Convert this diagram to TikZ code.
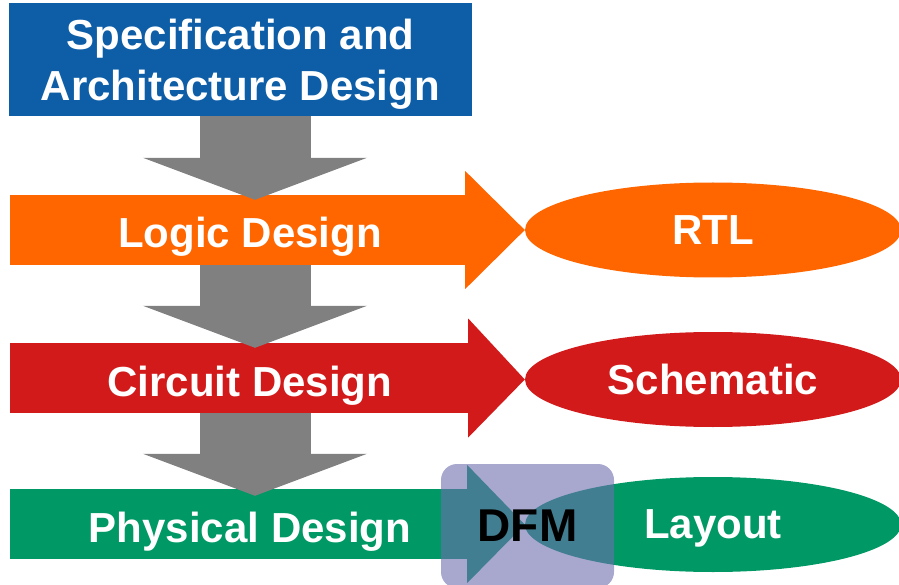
\documentclass[tikz,border=0pt]{standalone}
\usepackage{fontspec}
\setmainfont{Liberation Sans}
\usetikzlibrary{shapes.geometric,arrows.meta}
\definecolor{specblue}{RGB}{13,94,167}
\definecolor{logicorange}{RGB}{255,102,0}
\definecolor{circuitred}{RGB}{210,26,26}
\definecolor{physgreen}{RGB}{0,152,101}
\definecolor{flowgray}{RGB}{128,128,128}
\definecolor{dfmviolet}{RGB}{110,110,175}
\begin{document}
\begin{tikzpicture}
    [x=1pt,y=-1pt,
     lbl/.style={text=white,font=\fontsize{42}{51}\selectfont\bfseries},
     bar/.style={lbl,fill=#1,minimum width=480pt,minimum height=70pt,inner sep=0pt,text height=36pt,text depth=0pt},
     result/.style={lbl,shape=ellipse,fill=#1,minimum width=376pt,minimum height=95pt,inner sep=0pt,text depth=0pt},
     down/.style={flowgray,line width=111pt,-{Triangle[width=224pt,length=42pt,line width=0pt]}}]
    \useasboundingbox (0,0) rectangle (899,585);
    \node [lbl,fill=specblue,minimum width=463pt,minimum height=113pt,align=center,text height=91.6pt] (spec) at (240.5,59.5) {Specification and\\Architecture Design};
    \node [bar=logicorange] (logic) at (250,230) {Logic Design};
    \node [bar=circuitred] (circuit) at (250,378) {Circuit Design};
    \node [bar=physgreen] (phys) at (250,524) {Physical Design};
    \node [result=logicorange] (rtl) at (713,230) {RTL};
    \node [result=circuitred] (schem) at (713,379.5) {Schematic};
    \node [result=physgreen] (layout) at (713,524.5) {Layout};
    % arrow heads
    \fill [logicorange] ([xshift=-25pt,yshift=59pt]logic.east) -- (rtl.west) -- ([xshift=-25pt,yshift=-59pt]logic.east) -- cycle;
    \fill [circuitred] ([xshift=-22pt,yshift=59.5pt]circuit.east) -- (schem.west) -- ([xshift=-22pt,yshift=-59.5pt]circuit.east) -- cycle;
    \fill [physgreen] ([xshift=-23pt,yshift=59pt]phys.east) -- (layout.west) -- ([xshift=-23pt,yshift=-59pt]phys.east) -- cycle;
    % flow down
    \draw [down] ([xshift=14.5pt]spec.south) -- ([xshift=5pt,yshift=-5pt]logic.north);
    \draw [down] ([xshift=5pt]logic.south) -- ([xshift=5pt,yshift=-5pt]circuit.north);
    \draw [down] ([xshift=5pt]circuit.south) -- ([xshift=5pt,yshift=-7pt]phys.north);
    \node [fill=dfmviolet,fill opacity=0.6,text opacity=1,rounded corners=16pt,minimum width=173pt,minimum height=124pt,font=\fontsize{46}{50}\selectfont\bfseries] (dfm) at (527.5,526) {DFM};
\end{tikzpicture}
\end{document}
